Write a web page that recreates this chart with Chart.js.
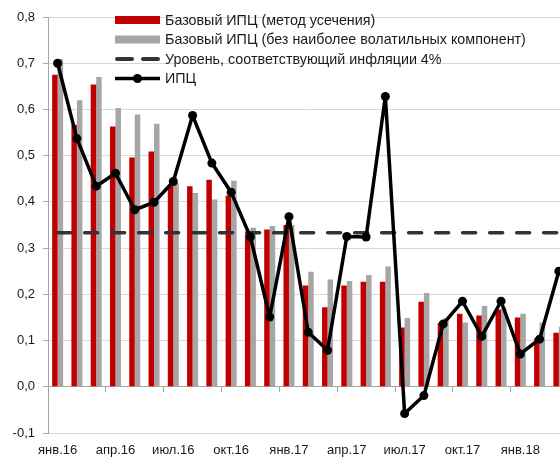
<!DOCTYPE html>
<html lang="ru">
<head>
<meta charset="utf-8">
<title>Базовый ИПЦ и ИПЦ, % м/м</title>
<script src="https://cdn.jsdelivr.net/npm/chart.js@4.4.1/dist/chart.umd.min.js"></script>
<style>
  html, body { margin: 0; padding: 0; background: #fff; overflow: hidden; }
  #wrap { position: relative; width: 573px; height: 457px; }
</style>
</head>
<body>
<div id="wrap"><canvas id="cpiChart"></canvas></div>
<script>
// Months, Jan 2016 .. Mar 2018 (the last ones are cut by the window edge)
const MONTHS = [
  'янв.16', 'фев.16', 'мар.16', 'апр.16', 'май.16', 'июн.16',
  'июл.16', 'авг.16', 'сен.16', 'окт.16', 'ноя.16', 'дек.16',
  'янв.17', 'фев.17', 'мар.17', 'апр.17', 'май.17', 'июн.17',
  'июл.17', 'авг.17', 'сен.17', 'окт.17', 'ноя.17', 'дек.17',
  'янв.18', 'фев.18', 'мар.18'
];

// Базовый ИПЦ (метод усечения), % m/m
const CORE_TRIMMED = [
  0.675, 0.567, 0.654, 0.563, 0.496, 0.509, 0.435, 0.434, 0.448, 0.414, 0.330, 0.340,
  0.350, 0.219, 0.172, 0.219, 0.227, 0.227, 0.128, 0.184, 0.138, 0.158, 0.154, 0.167,
  0.150, 0.105, 0.117
];

// Базовый ИПЦ (без наиболее волатильных компонент), % m/m
const CORE_EX_VOLATILE = [
  0.709, 0.620, 0.670, 0.603, 0.589, 0.569, 0.441, 0.419, 0.405, 0.446, 0.344, 0.348,
  0.350, 0.249, 0.232, 0.229, 0.242, 0.260, 0.149, 0.203, 0.148, 0.139, 0.175, 0.171,
  0.158, 0.139, 0.130
];

// ИПЦ, % m/m
const CPI = [
  0.700, 0.537, 0.434, 0.462, 0.383, 0.399, 0.444, 0.587, 0.484, 0.421, 0.324, 0.151,
  0.368, 0.118, 0.079, 0.325, 0.324, 0.628, -0.058, -0.019, 0.136, 0.185, 0.109, 0.185,
  0.071, 0.103, 0.250
];

// monthly level consistent with 4% annual inflation
const TARGET_LEVEL = 0.333;

const Y_MIN = -0.1;
const Y_MAX = 0.8;
const Y_STEP = 0.1;
const LABEL_EVERY = 3;

const TEXT_COLOR = '#1a1a1a';
const AXIS_COLOR = '#a6a6a6';
const GRID_COLOR = '#d9d9d9';

Chart.defaults.font.family = 'Arial, "Liberation Sans", sans-serif';
Chart.defaults.font.size = 13;
Chart.defaults.color = TEXT_COLOR;

/**
 * Legend drawn inside the plot, Excel style: swatch + text, one item per row
 */
const insideLegend = {
  id: 'insideLegend',
  afterDatasetsDraw(chart) {
    const { ctx, chartArea } = chart;
    const x = chartArea.left + 67;
    const swatchW = 45;
    const rowH = 19.5;
    let y = chartArea.top + 3;

    ctx.save();
    ctx.font = '14.3px Arial, "Liberation Sans", sans-serif';
    ctx.textBaseline = 'middle';
    ctx.textAlign = 'left';

    chart.data.datasets.forEach((ds) => {
      if (ds.type === 'bar' || !ds.type) {
        ctx.fillStyle = ds.backgroundColor;
        ctx.fillRect(x, y - 4, swatchW, 8);
      } else if (ds.borderDash && ds.borderDash.length) {
        ctx.strokeStyle = ds.borderColor;
        ctx.lineWidth = 4;
        ctx.lineCap = 'round';
        ctx.setLineDash([15, 11]);
        ctx.beginPath();
        ctx.moveTo(x + 2, y);
        ctx.lineTo(x + swatchW - 2, y);
        ctx.stroke();
        ctx.setLineDash([]);
      } else {
        ctx.strokeStyle = ds.borderColor;
        ctx.lineWidth = 3.5;
        ctx.lineCap = 'butt';
        ctx.beginPath();
        ctx.moveTo(x, y);
        ctx.lineTo(x + swatchW, y);
        ctx.stroke();
        ctx.fillStyle = ds.pointBackgroundColor;
        ctx.beginPath();
        ctx.arc(x + swatchW / 2, y, 4.5, 0, Math.PI * 2);
        ctx.fill();
      }
      ctx.fillStyle = TEXT_COLOR;
      ctx.fillText(ds.label, x + swatchW + 5, y + 1);
      y += rowH;
    });
    ctx.restore();
  }
};

const datasets = [
  {
    type: 'bar',
    label: 'Базовый ИПЦ (метод усечения)',
    data: CORE_TRIMMED,
    backgroundColor: '#c00000',
    borderWidth: 0,
    categoryPercentage: 0.57,
    barPercentage: 1.0,
    order: 2
  },
  {
    type: 'bar',
    label: 'Базовый ИПЦ (без наиболее волатильных компонент)',
    data: CORE_EX_VOLATILE,
    backgroundColor: '#a6a6a6',
    borderWidth: 0,
    categoryPercentage: 0.57,
    barPercentage: 1.0,
    order: 3
  },
  {
    type: 'line',
    label: 'Уровень, соответствующий инфляции 4%',
    data: MONTHS.map(() => TARGET_LEVEL),
    borderColor: '#333333',
    borderWidth: 3.5,
    borderDash: [13, 14],
    borderCapStyle: 'round',
    pointRadius: 0,
    fill: false,
    order: 1
  },
  {
    type: 'line',
    label: 'ИПЦ',
    data: CPI,
    borderColor: '#000000',
    borderWidth: 3.5,
    borderJoinStyle: 'round',
    pointRadius: 4.5,
    pointBackgroundColor: '#000000',
    pointBorderColor: '#000000',
    pointBorderWidth: 0,
    tension: 0,
    fill: false,
    order: 0
  }
];

const config = {
  type: 'bar',
  data: { labels: MONTHS, datasets },
  options: {
    responsive: true,
    maintainAspectRatio: false,
    animation: false,
    layout: { padding: { top: 17, right: 0, bottom: 0, left: 0 } },
    plugins: {
      legend: { display: false },
      tooltip: { enabled: false }
    },
    scales: {
      x: {
        type: 'category',
        position: 'bottom',
        offset: true,
        afterFit: (scale) => { scale.height = 24; },
        grid: { display: false, drawTicks: false },
        border: { display: false },
        ticks: {
          autoSkip: false,
          maxRotation: 0,
          minRotation: 0,
          padding: 10,
          callback: (value, index) => (index % LABEL_EVERY === 0 ? MONTHS[index] : '')
        }
      },
      // horizontal axis line at zero, with tick marks between quarters
      xZero: {
        type: 'category',
        position: { y: 0 },
        offset: true,
        afterFit: (scale) => { scale.height = 0; },
        grid: {
          offset: true,
          drawOnChartArea: false,
          drawTicks: true,
          tickLength: 5,
          color: (ctx) => (ctx.index % LABEL_EVERY === 0 ? AXIS_COLOR : 'rgba(0,0,0,0)')
        },
        border: { display: true, color: AXIS_COLOR, width: 1 },
        ticks: { display: false }
      },
      y: {
        min: Y_MIN,
        max: Y_MAX,
        afterFit: (scale) => { scale.width = 48; },
        grid: {
          color: GRID_COLOR,
          tickColor: AXIS_COLOR,
          tickLength: 5
        },
        border: { display: true, color: AXIS_COLOR },
        ticks: {
          stepSize: Y_STEP,
          padding: 8,
          callback: (value) => value.toFixed(1).replace('.', ',')
        }
      }
    }
  },
  plugins: [insideLegend]
};

const chart = new Chart(document.getElementById('cpiChart'), config);
</script>
</body>
</html>
